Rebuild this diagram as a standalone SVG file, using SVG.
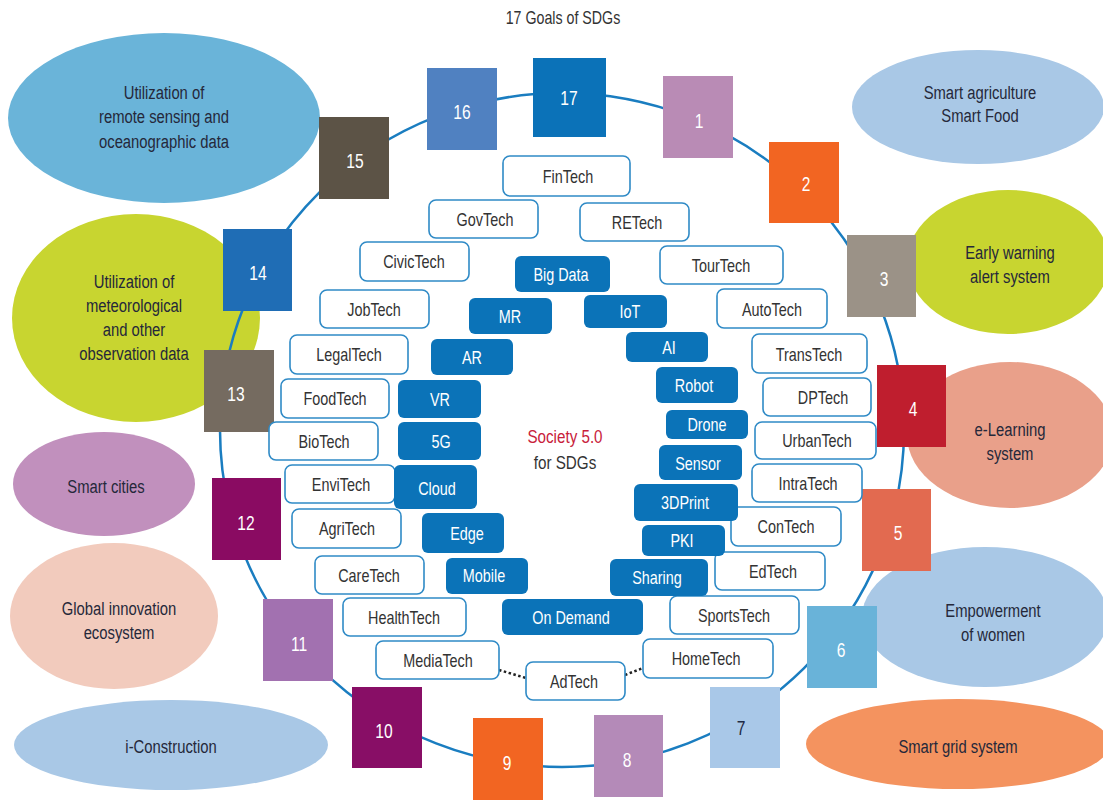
<svg xmlns="http://www.w3.org/2000/svg" width="1103" height="800" viewBox="0 0 1103 800">
<style>
text{font-family:"Liberation Sans",Arial,sans-serif;text-anchor:middle}
.el{font-size:19px;fill:#25283a}
.num{font-size:19.5px;fill:#ffffff}
.tb rect{fill:#ffffff;stroke:#2f8ac6;stroke-width:1.6}
.tb text{font-size:18px;fill:#333333}
.fb rect{fill:#0b73b8}
.fb text{font-size:18px;fill:#ffffff}
.ring{fill:none;stroke:#1a7dc0;stroke-width:2.5}
.dot{fill:none;stroke:#222222;stroke-width:2.5;stroke-dasharray:2.5 2.5}
</style>
<rect width="1103" height="800" fill="#ffffff"/>
<text transform="translate(563 24) scale(0.79 1)" style="font-size:18px;fill:#333333">17 Goals of SDGs</text>

<g id="ellipses">
<g id="e-remote"><ellipse cx="164" cy="118" rx="156" ry="85" fill="#6ab4d9"/>
<text class="el" transform="translate(164 99) scale(0.78 1)">Utilization of</text><text class="el" transform="translate(164 123) scale(0.78 1)">remote sensing and</text><text class="el" transform="translate(164 148) scale(0.78 1)">oceanographic data</text></g>
<g id="e-agri"><ellipse cx="978" cy="107" rx="126" ry="57" fill="#a9c8e6"/>
<text class="el" transform="translate(980 99) scale(0.78 1)">Smart agriculture</text><text class="el" transform="translate(980 122) scale(0.78 1)">Smart Food</text></g>
<g id="e-warning"><ellipse cx="1008" cy="262" rx="101" ry="72" fill="#c8d530"/>
<text class="el" transform="translate(1010 259) scale(0.78 1)">Early warning</text><text class="el" transform="translate(1010 283) scale(0.78 1)">alert system</text></g>
<g id="e-meteo"><ellipse cx="136" cy="318" rx="124" ry="104" fill="#c8d530"/>
<text class="el" transform="translate(134 288) scale(0.78 1)">Utilization of</text><text class="el" transform="translate(134 312) scale(0.78 1)">meteorological</text><text class="el" transform="translate(134 336) scale(0.78 1)">and other</text><text class="el" transform="translate(134 360) scale(0.78 1)">observation data</text></g>
<g id="e-cities"><ellipse cx="104" cy="484" rx="91" ry="52" fill="#c190bd"/>
<text class="el" transform="translate(106 493) scale(0.78 1)">Smart cities</text></g>
<g id="e-global"><ellipse cx="114" cy="616" rx="104" ry="73" fill="#f2cbbd"/>
<text class="el" transform="translate(119 615) scale(0.78 1)">Global innovation</text><text class="el" transform="translate(119 639) scale(0.78 1)">ecosystem</text></g>
<g id="e-icon"><ellipse cx="171" cy="745" rx="157" ry="45" fill="#a9c8e6"/>
<text class="el" transform="translate(171 753) scale(0.78 1)">i-Construction</text></g>
<g id="e-learning"><ellipse cx="1010" cy="435" rx="103" ry="73" fill="#e9a08a"/>
<text class="el" transform="translate(1010 436) scale(0.78 1)">e-Learning</text><text class="el" transform="translate(1010 460) scale(0.78 1)">system</text></g>
<g id="e-women"><ellipse cx="985" cy="617" rx="123" ry="70" fill="#a9c8e6"/>
<text class="el" transform="translate(993 617) scale(0.78 1)">Empowerment</text><text class="el" transform="translate(993 641) scale(0.78 1)">of women</text></g>
<g id="e-grid"><ellipse cx="958" cy="744" rx="152" ry="45" fill="#f4935f"/>
<text class="el" transform="translate(958 753) scale(0.78 1)">Smart grid system</text></g>
</g>

<g id="connectors">
<ellipse class="ring" cx="562" cy="430" rx="342" ry="337"/>
<path class="dot" d="M499 670 L526 678"/>
<path class="dot" d="M625 675 L643 668"/>
</g>

<g id="goals">
<g id="g17"><rect x="533" y="58" width="73" height="79" fill="#0b72b8"/><text class="num" transform="translate(569 105) scale(0.8 1)">17</text></g>
<g id="g16"><rect x="427" y="68" width="70" height="82" fill="#5081c1"/><text class="num" transform="translate(462 119) scale(0.8 1)">16</text></g>
<g id="g1"><rect x="663" y="76" width="70" height="82" fill="#b98bb5"/><text class="num" transform="translate(699 128) scale(0.8 1)">1</text></g>
<g id="g2"><rect x="769" y="142" width="70" height="81" fill="#f26522"/><text class="num" transform="translate(806 191) scale(0.8 1)">2</text></g>
<g id="g3"><rect x="847" y="235" width="69" height="82" fill="#9b9287"/><text class="num" transform="translate(884 286) scale(0.8 1)">3</text></g>
<g id="g4"><rect x="877" y="365" width="69" height="82" fill="#bf1e2e"/><text class="num" transform="translate(913 416) scale(0.8 1)">4</text></g>
<g id="g5"><rect x="862" y="489" width="69" height="82" fill="#e26a50"/><text class="num" transform="translate(898 540) scale(0.8 1)">5</text></g>
<g id="g6"><rect x="807" y="606" width="70" height="82" fill="#69b3d9"/><text class="num" transform="translate(841 657) scale(0.8 1)">6</text></g>
<g id="g7"><rect x="710" y="687" width="70" height="81" fill="#a9c8e8"/><text class="num" transform="translate(741 735) scale(0.8 1)" style="fill:#1f2a44">7</text></g>
<g id="g8"><rect x="594" y="715" width="69" height="82" fill="#b48ab8"/><text class="num" transform="translate(627 767) scale(0.8 1)">8</text></g>
<g id="g9"><rect x="473" y="718" width="70" height="82" fill="#f26522"/><text class="num" transform="translate(507 770) scale(0.8 1)">9</text></g>
<g id="g10"><rect x="352" y="687" width="70" height="81" fill="#880e66"/><text class="num" transform="translate(384 738) scale(0.8 1)">10</text></g>
<g id="g11"><rect x="263" y="599" width="70" height="82" fill="#a271b0"/><text class="num" transform="translate(299 651) scale(0.8 1)">11</text></g>
<g id="g12"><rect x="212" y="478" width="69" height="82" fill="#8a0b62"/><text class="num" transform="translate(246 530) scale(0.8 1)">12</text></g>
<g id="g13"><rect x="204" y="350" width="70" height="82" fill="#756b60"/><text class="num" transform="translate(236 401) scale(0.8 1)">13</text></g>
<g id="g14"><rect x="223" y="229" width="69" height="82" fill="#1f6db5"/><text class="num" transform="translate(258 280) scale(0.8 1)">14</text></g>
<g id="g15"><rect x="319" y="117" width="70" height="82" fill="#5c5346"/><text class="num" transform="translate(355 168) scale(0.8 1)">15</text></g>
</g>

<g id="techs">
<g id="FinTech" class="tb"><rect x="503" y="156" width="127" height="40" rx="7"/><text transform="translate(568 183) scale(0.8 1)">FinTech</text></g>
<g id="GovTech" class="tb"><rect x="429" y="200" width="109" height="38" rx="7"/><text transform="translate(485 226) scale(0.8 1)">GovTech</text></g>
<g id="RETech" class="tb"><rect x="580" y="203" width="109" height="38" rx="7"/><text transform="translate(637 229) scale(0.8 1)">RETech</text></g>
<g id="CivicTech" class="tb"><rect x="360" y="242" width="109" height="39" rx="7"/><text transform="translate(414 268) scale(0.8 1)">CivicTech</text></g>
<g id="TourTech" class="tb"><rect x="660" y="246" width="123" height="38" rx="7"/><text transform="translate(721 272) scale(0.8 1)">TourTech</text></g>
<g id="JobTech" class="tb"><rect x="320" y="290" width="109" height="38" rx="7"/><text transform="translate(374 316) scale(0.8 1)">JobTech</text></g>
<g id="AutoTech" class="tb"><rect x="717" y="289" width="110" height="39" rx="7"/><text transform="translate(772 316) scale(0.8 1)">AutoTech</text></g>
<g id="LegalTech" class="tb"><rect x="290" y="335" width="118" height="39" rx="7"/><text transform="translate(349 361) scale(0.8 1)">LegalTech</text></g>
<g id="TransTech" class="tb"><rect x="752" y="334" width="115" height="39" rx="7"/><text transform="translate(809 361) scale(0.8 1)">TransTech</text></g>
<g id="FoodTech" class="tb"><rect x="281" y="379" width="108" height="39" rx="7"/><text transform="translate(335 405) scale(0.8 1)">FoodTech</text></g>
<g id="DPTech" class="tb"><rect x="763" y="378" width="108" height="38" rx="7"/><text transform="translate(823 404) scale(0.8 1)">DPTech</text></g>
<g id="BioTech" class="tb"><rect x="269" y="422" width="109" height="38" rx="7"/><text transform="translate(324 448) scale(0.8 1)">BioTech</text></g>
<g id="UrbanTech" class="tb"><rect x="755" y="422" width="121" height="37" rx="7"/><text transform="translate(817 447) scale(0.8 1)">UrbanTech</text></g>
<g id="EnviTech" class="tb"><rect x="285" y="465" width="110" height="38" rx="7"/><text transform="translate(341 491) scale(0.8 1)">EnviTech</text></g>
<g id="IntraTech" class="tb"><rect x="752" y="464" width="110" height="38" rx="7"/><text transform="translate(808 490) scale(0.8 1)">IntraTech</text></g>
<g id="AgriTech" class="tb"><rect x="292" y="509" width="109" height="39" rx="7"/><text transform="translate(347 535) scale(0.8 1)">AgriTech</text></g>
<g id="ConTech" class="tb"><rect x="731" y="507" width="110" height="39" rx="7"/><text transform="translate(786 533) scale(0.8 1)">ConTech</text></g>
<g id="CareTech" class="tb"><rect x="315" y="556" width="109" height="38" rx="7"/><text transform="translate(369 582) scale(0.8 1)">CareTech</text></g>
<g id="EdTech" class="tb"><rect x="715" y="552" width="110" height="38" rx="7"/><text transform="translate(773 578) scale(0.8 1)">EdTech</text></g>
<g id="HealthTech" class="tb"><rect x="343" y="598" width="123" height="38" rx="7"/><text transform="translate(404 624) scale(0.8 1)">HealthTech</text></g>
<g id="SportsTech" class="tb"><rect x="670" y="596" width="129" height="38" rx="7"/><text transform="translate(734 622) scale(0.8 1)">SportsTech</text></g>
<g id="MediaTech" class="tb"><rect x="376" y="641" width="123" height="38" rx="7"/><text transform="translate(438 667) scale(0.8 1)">MediaTech</text></g>
<g id="HomeTech" class="tb"><rect x="643" y="639" width="130" height="39" rx="7"/><text transform="translate(706 665) scale(0.8 1)">HomeTech</text></g>
<g id="AdTech" class="tb"><rect x="526" y="662" width="99" height="38" rx="7"/><text transform="translate(574 688) scale(0.8 1)">AdTech</text></g>

<g id="BigData" class="fb"><rect x="515" y="256" width="95" height="36" rx="6"/><text transform="translate(561 281) scale(0.8 1)">Big Data</text></g>
<g id="MR" class="fb"><rect x="469" y="298" width="83" height="36" rx="6"/><text transform="translate(510 323) scale(0.8 1)">MR</text></g>
<g id="IoT" class="fb"><rect x="584" y="295" width="83" height="33" rx="6"/><text transform="translate(630 318) scale(0.8 1)">IoT</text></g>
<g id="AR" class="fb"><rect x="431" y="339" width="82" height="36" rx="6"/><text transform="translate(472 364) scale(0.8 1)">AR</text></g>
<g id="AI" class="fb"><rect x="626" y="332" width="82" height="30" rx="6"/><text transform="translate(669 354) scale(0.8 1)">AI</text></g>
<g id="Robot" class="fb"><rect x="656" y="367" width="82" height="36" rx="6"/><text transform="translate(694 392) scale(0.8 1)">Robot</text></g>
<g id="VR" class="fb"><rect x="398" y="380" width="83" height="38" rx="6"/><text transform="translate(440 406) scale(0.8 1)">VR</text></g>
<g id="Drone" class="fb"><rect x="666" y="410" width="82" height="29" rx="6"/><text transform="translate(707 431) scale(0.8 1)">Drone</text></g>
<g id="G5" class="fb"><rect x="398" y="422" width="83" height="38" rx="6"/><text transform="translate(441 448) scale(0.8 1)">5G</text></g>
<g id="Sensor" class="fb"><rect x="659" y="445" width="83" height="35" rx="6"/><text transform="translate(698 470) scale(0.8 1)">Sensor</text></g>
<g id="Cloud" class="fb"><rect x="394" y="465" width="83" height="44" rx="6"/><text transform="translate(437 495) scale(0.8 1)">Cloud</text></g>
<g id="DPrint" class="fb"><rect x="634" y="484" width="104" height="37" rx="6"/><text transform="translate(685 509) scale(0.8 1)">3DPrint</text></g>
<g id="Edge" class="fb"><rect x="422" y="513" width="82" height="40" rx="6"/><text transform="translate(467 540) scale(0.8 1)">Edge</text></g>
<g id="PKI" class="fb"><rect x="642" y="525" width="83" height="31" rx="6"/><text transform="translate(682 547) scale(0.8 1)">PKI</text></g>
<g id="Mobile" class="fb"><rect x="446" y="558" width="82" height="36" rx="6"/><text transform="translate(484 582) scale(0.8 1)">Mobile</text></g>
<g id="Sharing" class="fb"><rect x="610" y="559" width="98" height="37" rx="6"/><text transform="translate(657 584) scale(0.8 1)">Sharing</text></g>
<g id="OnDemand" class="fb"><rect x="502" y="599" width="141" height="36" rx="6"/><text transform="translate(571 624) scale(0.8 1)">On Demand</text></g>
</g>

<g id="center">
<text transform="translate(565 443) scale(0.8 1)" style="font-size:19px;fill:#c8213a">Society 5.0</text>
<text transform="translate(565 469) scale(0.8 1)" style="font-size:19px;fill:#333333">for SDGs</text>
</g>
</svg>
